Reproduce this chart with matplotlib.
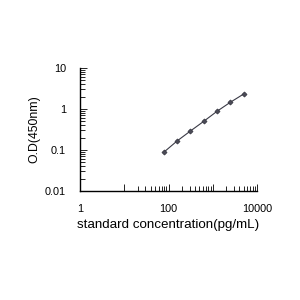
import numpy as np
import matplotlib.pyplot as plt
from matplotlib.ticker import LogLocator, FixedLocator, NullFormatter

plt.rcParams['font.family'] = ['Liberation Sans', 'DejaVu Sans']

# standard curve
conc = [78.125, 156.25, 312.5, 625, 1250, 2500, 5000]
od = [0.088, 0.166, 0.29, 0.50, 0.88, 1.46, 2.32]

xticks = [1, 10, 100, 1000, 10000]
xtick_labels = ['1', '', '100', '', '10000']
yticks = [0.01, 0.1, 1, 10]
ytick_labels = ['0.01', '0.1', '1', '10']

fig = plt.figure(figsize=(3, 3), dpi=100)
ax = fig.add_axes([80/300, 109/300, 177/300, 123/300])

ax.plot(conc, od, color='#3a3a46', lw=0.8, marker='D', ms=2.6,
        mfc='#4a4a56', mec='#33333d', mew=0.5)

ax.set_xscale('log')
ax.set_yscale('log')
ax.set_xlim(1, 10000)
ax.set_ylim(0.01, 10)

ax.xaxis.set_major_locator(FixedLocator(xticks))
ax.set_xticklabels(xtick_labels)
# no minor ticks in the first decade on x
xminor = [k * 10**d for d in range(1, 4) for k in range(2, 10)]
ax.xaxis.set_minor_locator(FixedLocator(xminor))
ax.xaxis.set_minor_formatter(NullFormatter())
ax.yaxis.set_major_locator(FixedLocator(yticks))
ax.set_yticklabels(ytick_labels)
ax.yaxis.set_minor_locator(LogLocator(base=10, subs=np.arange(2, 10)))
ax.yaxis.set_minor_formatter(NullFormatter())

ax.tick_params(which='both', direction='in', width=0.6, color='black')
ax.tick_params(which='major', length=5, labelsize=7.8)
ax.tick_params(which='minor', length=3.5)
ax.tick_params(axis='y', which='major', pad=10)
ax.tick_params(axis='x', which='major', pad=9)

for s in ['top', 'right']:
    ax.spines[s].set_visible(False)
for s in ['left', 'bottom']:
    ax.spines[s].set_linewidth(1.0)

ax.set_xlabel('standard concentration(pg/mL)', fontsize=9.6, labelpad=4)
ax.set_ylabel('O.D(450nm)', fontsize=8.8, labelpad=3)

fig.savefig('out.png', dpi=100)
